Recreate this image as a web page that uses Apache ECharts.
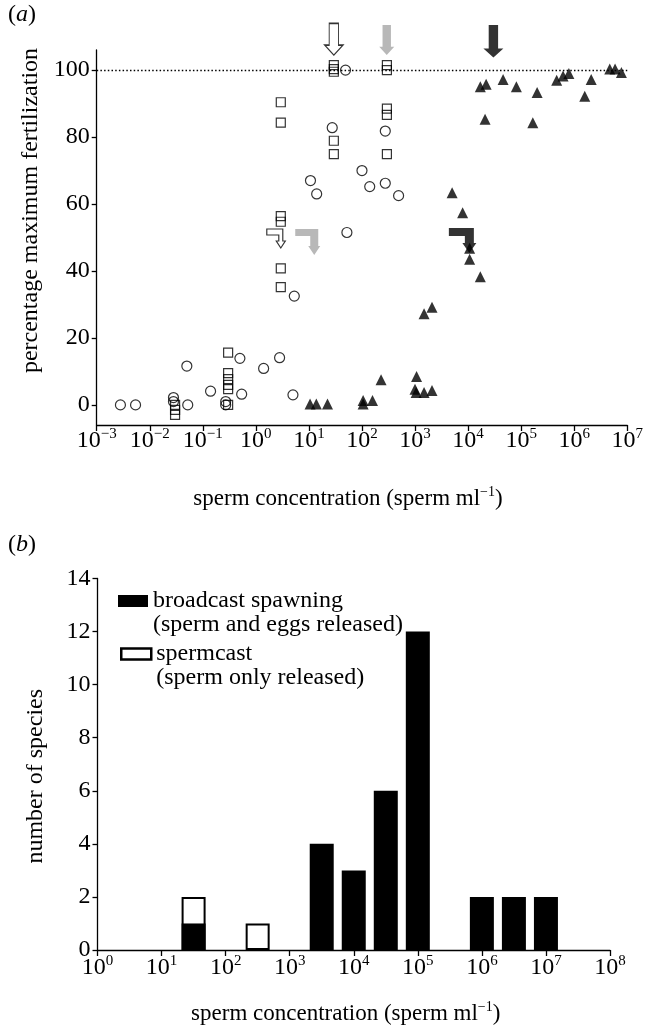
<!DOCTYPE html>
<html>
<head>
<meta charset="utf-8">
<title>Sperm concentration and fertilization</title>
<script src="https://cdn.jsdelivr.net/npm/echarts@6.0.0/dist/echarts.min.js"></script>
<style>
  html, body { margin: 0; padding: 0; background: #fff; }
  #chart { width: 646px; height: 1028px; }
</style>
</head>
<body>
<div id="chart"></div>
<script>
// ---- panel (a): [sperm ml^-1, percentage of maximum fertilization] ----
const circlePoints = [
  [0.0028, 0], [0.0054, 0], [0.028, 2.2], [0.028, 1], [0.050, 11.6], [0.052, 0],
  [0.14, 4.1], [0.27, 1], [0.27, 0], [0.50, 13.9], [0.54, 3.2], [1.4, 10.9],
  [2.8, 14.1], [5.0, 3], [5.3, 32.5], [10.7, 67], [14, 63], [27.5, 82.8],
  [49, 100], [52, 51.5], [100, 70], [140, 65.2], [275, 81.8], [275, 66.2], [490, 62.5]
];
const squarePoints = [
  [0.030, 0], [0.030, -1.5], [0.030, -3], [0.30, 15.6], [0.30, 9.5], [0.30, 7.7],
  [0.30, 6], [0.30, 4.7], [0.30, 0], [2.95, 40.8], [2.95, 35.2], [2.95, 90.4],
  [2.95, 84.3], [2.95, 56.4], [2.95, 54.7], [29.5, 101.5], [29.5, 100.3], [29.5, 99.5],
  [29.5, 78.9], [29.5, 74.9], [295, 101.5], [295, 100], [295, 88.5], [295, 86.6], [295, 74.9]
];
const trianglePoints = [
  [10.5, 0.3], [13.8, 0.3], [22.4, 0.3], [105, 1.3], [105, 0.3], [158, 1.3], [229, 7.5],
  [1000, 4.7], [1050, 3.7], [1070, 8.5], [1480, 3.7], [2090, 4.3], [1480, 27.2], [2090, 29.2],
  [5000, 63.4], [7900, 57.4], [10700, 46.8], [10700, 43.5], [17000, 38.3], [17000, 95],
  [21900, 95.8], [20900, 85.3], [45700, 97.2], [81300, 95], [166000, 84.3], [200000, 93.3],
  [468000, 97], [617000, 98.2], [794000, 99], [1580000, 92.2], [2090000, 97.2],
  [4680000, 100.3], [5890000, 100.3], [7760000, 99.3]
];
// arrows: concentration each one points at (open, grey, black)
const topArrowConc = [29.5, 293, 30000];
const halfArrowConc = [2.95, 12.6, 10570];

// ---- panel (b): log10 bin centres and number of species ----
const binExponent = [1.5, 2.5, 3.5, 4, 4.5, 5, 6, 6.5, 7];
const broadcastCount = [1, 0, 4, 3, 6, 12, 2, 2, 2];
const spermcastCount = [1, 1, 0, 0, 0, 0, 0, 0, 0];

// tick labels
const decadesA = [-3, -2, -1, 0, 1, 2, 3, 4, 5, 6, 7];
const decadesB = [0, 1, 2, 3, 4, 5, 6, 7, 8];
const pctTicks = [0, 20, 40, 60, 80, 100];

const FONT = '"Liberation Serif", "DejaVu Serif", serif';
const black = '#000';
const grey = '#a6a6a6';

const ARROW_OPEN = 'path://M4.5 0 H13.8 V21.7 H18.3 L9.15 31.7 L0 21.7 H4.5 Z';
const ARROW_GREY = 'path://M3.3 0 H11.7 V21.7 H15 L7.5 30 L0 21.7 H3.3 Z';
const ARROW_BLACK = 'path://M5.3 0 H14.7 V23.3 H20 L10 32.3 L0 23.3 H5.3 Z';
const BENT_OPEN = 'path://M0 0 H16 V12 H18.5 L14 19 L9.5 12 H12 V6 H0 Z';
const BENT_GREY = 'path://M0 0 H23 V17 H25 L19 26 L13 17 H15 V7 H0 Z';
const BENT_BLACK = 'path://M0 0 H25 V15 H27.5 L20.5 25 L13.5 15 H16 V8 H0 Z';

const arrowStyles = [
  { color: '#fff', borderColor: black, borderWidth: 1.2 },
  { color: grey, borderWidth: 0 },
  { color: black, borderWidth: 0 }
];
const topShapes = [
  [ARROW_OPEN, [18.3, 31.7], [0, -30.85]],
  [ARROW_GREY, [15, 30], [0, -30]],
  [ARROW_BLACK, [20, 32.3], [0, -28.85]]
];
const bentShapes = [
  [BENT_OPEN, [18.5, 19], [-4.75, 1]],
  [BENT_GREY, [25, 26], [-6.5, 4.5]],
  [BENT_BLACK, [27.5, 25], [-6.75, 3]]
];

const toLog = p => [Math.log10(p[0]), p[1]];

function arrowData(concs, level, shapes) {
  return concs.map((c, i) => ({
    value: [Math.log10(c), level],
    symbol: shapes[i][0],
    symbolSize: shapes[i][1],
    symbolOffset: shapes[i][2],
    itemStyle: arrowStyles[i]
  }));
}

// broadcast bars sit at the bottom; spermcast bars are drawn behind them
// reaching up to the bin total, so only their own share shows
function barData(counts, under) {
  const out = [];
  counts.forEach((n, i) => {
    if (n > 0) out.push([binExponent[i], n + (under ? under[i] : 0)]);
  });
  return out;
}

function powerLabel(v) {
  const e = Math.round(v);
  return '{b|10}{s|' + String(e).replace('-', '\u2212') + '}';
}

const tickRich = {
  b: { fontFamily: FONT, fontSize: 24, lineHeight: 28, color: black },
  s: { fontFamily: FONT, fontSize: 15, lineHeight: 15, verticalAlign: 'top', color: black }
};
const nameRich = {
  s: { fontFamily: FONT, fontSize: 14, lineHeight: 14, verticalAlign: 'top', color: black }
};
const axisLine = { onZero: false, lineStyle: { color: black, width: 1.3 } };
const tickStyle = { color: black, width: 1.3 };

function xAxisFor(grid, min, max, gap, pad, margin) {
  return {
    gridIndex: grid, type: 'value', min: min, max: max, interval: 1,
    axisLine: axisLine,
    axisTick: { length: 6, lineStyle: tickStyle },
    axisLabel: { formatter: powerLabel, margin: margin, rich: tickRich },
    splitLine: { show: false },
    name: 'sperm concentration (sperm ml{s|\u22121})',
    nameLocation: 'middle', nameGap: gap,
    nameTextStyle: {
      fontFamily: FONT, fontSize: 23, lineHeight: 27, color: black,
      padding: pad, rich: nameRich
    }
  };
}

function legendText(second) {
  // blank first line keeps the name level with the swatch
  return n => '\n' + n + '\n' + second;
}

const chart = echarts.init(document.getElementById('chart'));

const option = {
  animation: false,
  backgroundColor: '#fff',
  textStyle: { fontFamily: FONT, color: black },
  title: [
    {
      text: '({i|a})', left: 8, top: 3, padding: 0,
      textStyle: { fontFamily: FONT, fontSize: 24, fontWeight: 'normal', color: black,
        rich: { i: { fontFamily: FONT, fontSize: 24, fontStyle: 'italic', color: black } } }
    },
    {
      text: '({i|b})', left: 8, top: 533, padding: 0,
      textStyle: { fontFamily: FONT, fontSize: 24, fontWeight: 'normal', color: black,
        rich: { i: { fontFamily: FONT, fontSize: 24, fontStyle: 'italic', color: black } } }
    }
  ],
  legend: [
    {
      left: 118, top: 565, padding: 0, icon: 'rect', itemWidth: 30, itemHeight: 12,
      selectedMode: false,
      data: [{ name: 'broadcast spawning', itemStyle: { color: black, borderWidth: 0 } }],
      formatter: legendText('(sperm and eggs released)'),
      textStyle: { fontFamily: FONT, fontSize: 24, lineHeight: 24, color: black }
    },
    {
      left: 120, top: 618, padding: 0, icon: 'rect', itemWidth: 30, itemHeight: 11,
      selectedMode: false,
      data: [{ name: 'spermcast', itemStyle: { color: '#fff', borderColor: black, borderWidth: 2.5 } }],
      formatter: legendText('(sperm only released)'),
      textStyle: { fontFamily: FONT, fontSize: 24, lineHeight: 24, color: black }
    }
  ],
  grid: [
    { left: 96.7, top: 50, width: 535, height: 375 },
    { left: 97.5, top: 578.5, width: 512.5, height: 373.5 }
  ],
  xAxis: [
    xAxisFor(0, decadesA[0], decadesA[decadesA.length - 1], 60, [0, 28, 0, 0], 2),
    xAxisFor(1, decadesB[0], decadesB[decadesB.length - 1], 50, [0, 16, 0, 0], 4)
  ],
  yAxis: [
    {
      gridIndex: 0, type: 'value', min: -6, max: 106,
      axisLine: axisLine,
      axisTick: { length: 5, lineStyle: tickStyle, customValues: pctTicks },
      axisLabel: { customValues: pctTicks, margin: 7, fontFamily: FONT, fontSize: 24, color: black },
      splitLine: { show: false },
      name: 'percentage maximum fertilization',
      nameLocation: 'middle', nameGap: 50,
      nameTextStyle: { fontFamily: FONT, fontSize: 24, color: black, padding: [0, 0, 0, 54] }
    },
    {
      gridIndex: 1, type: 'value', min: 0, max: 14, interval: 2,
      axisLine: axisLine,
      axisTick: { length: 5, lineStyle: tickStyle },
      axisLabel: { margin: 7, fontFamily: FONT, fontSize: 24, color: black },
      splitLine: { show: false },
      name: 'number of species',
      nameLocation: 'middle', nameGap: 50,
      nameTextStyle: { fontFamily: FONT, fontSize: 24, color: black, padding: [0, 24, 0, 0] }
    }
  ],
  series: [
    {
      name: 'open circles', type: 'scatter', xAxisIndex: 0, yAxisIndex: 0,
      symbol: 'circle', symbolSize: 10,
      itemStyle: { color: 'rgba(0,0,0,0)', borderColor: black, borderWidth: 1.2 },
      data: circlePoints.map(toLog),
      markLine: {
        silent: true, symbol: ['none', 'none'], label: { show: false },
        lineStyle: { color: black, width: 1.3, type: [1.5, 2.2] },
        data: [{ yAxis: 100 }]
      }
    },
    {
      name: 'open squares', type: 'scatter', xAxisIndex: 0, yAxisIndex: 0,
      symbol: 'rect', symbolSize: 9,
      itemStyle: { color: 'rgba(0,0,0,0)', borderColor: black, borderWidth: 1.2 },
      data: squarePoints.map(toLog)
    },
    {
      name: 'filled triangles', type: 'scatter', xAxisIndex: 0, yAxisIndex: 0,
      symbol: 'triangle', symbolSize: 11,
      itemStyle: { color: black },
      data: trianglePoints.map(toLog)
    },
    {
      name: 'max arrows', type: 'scatter', xAxisIndex: 0, yAxisIndex: 0,
      silent: true, clip: false, z: 4,
      data: arrowData(topArrowConc, 100, topShapes)
    },
    {
      name: 'half arrows', type: 'scatter', xAxisIndex: 0, yAxisIndex: 0,
      silent: true, clip: false, z: 1,
      data: arrowData(halfArrowConc, 50, bentShapes)
    },
    {
      name: 'spermcast', type: 'bar', xAxisIndex: 1, yAxisIndex: 1,
      barWidth: 24, barGap: '-100%', z: 2,
      itemStyle: { color: '#fff', borderColor: black, borderWidth: 2 },
      data: barData(spermcastCount, broadcastCount)
    },
    {
      name: 'broadcast spawning', type: 'bar', xAxisIndex: 1, yAxisIndex: 1,
      barWidth: 24, barGap: '-100%', z: 3,
      itemStyle: { color: black, borderColor: black, borderWidth: 0 },
      data: barData(broadcastCount)
    }
  ]
};

chart.setOption(option);
</script>
</body>
</html>
